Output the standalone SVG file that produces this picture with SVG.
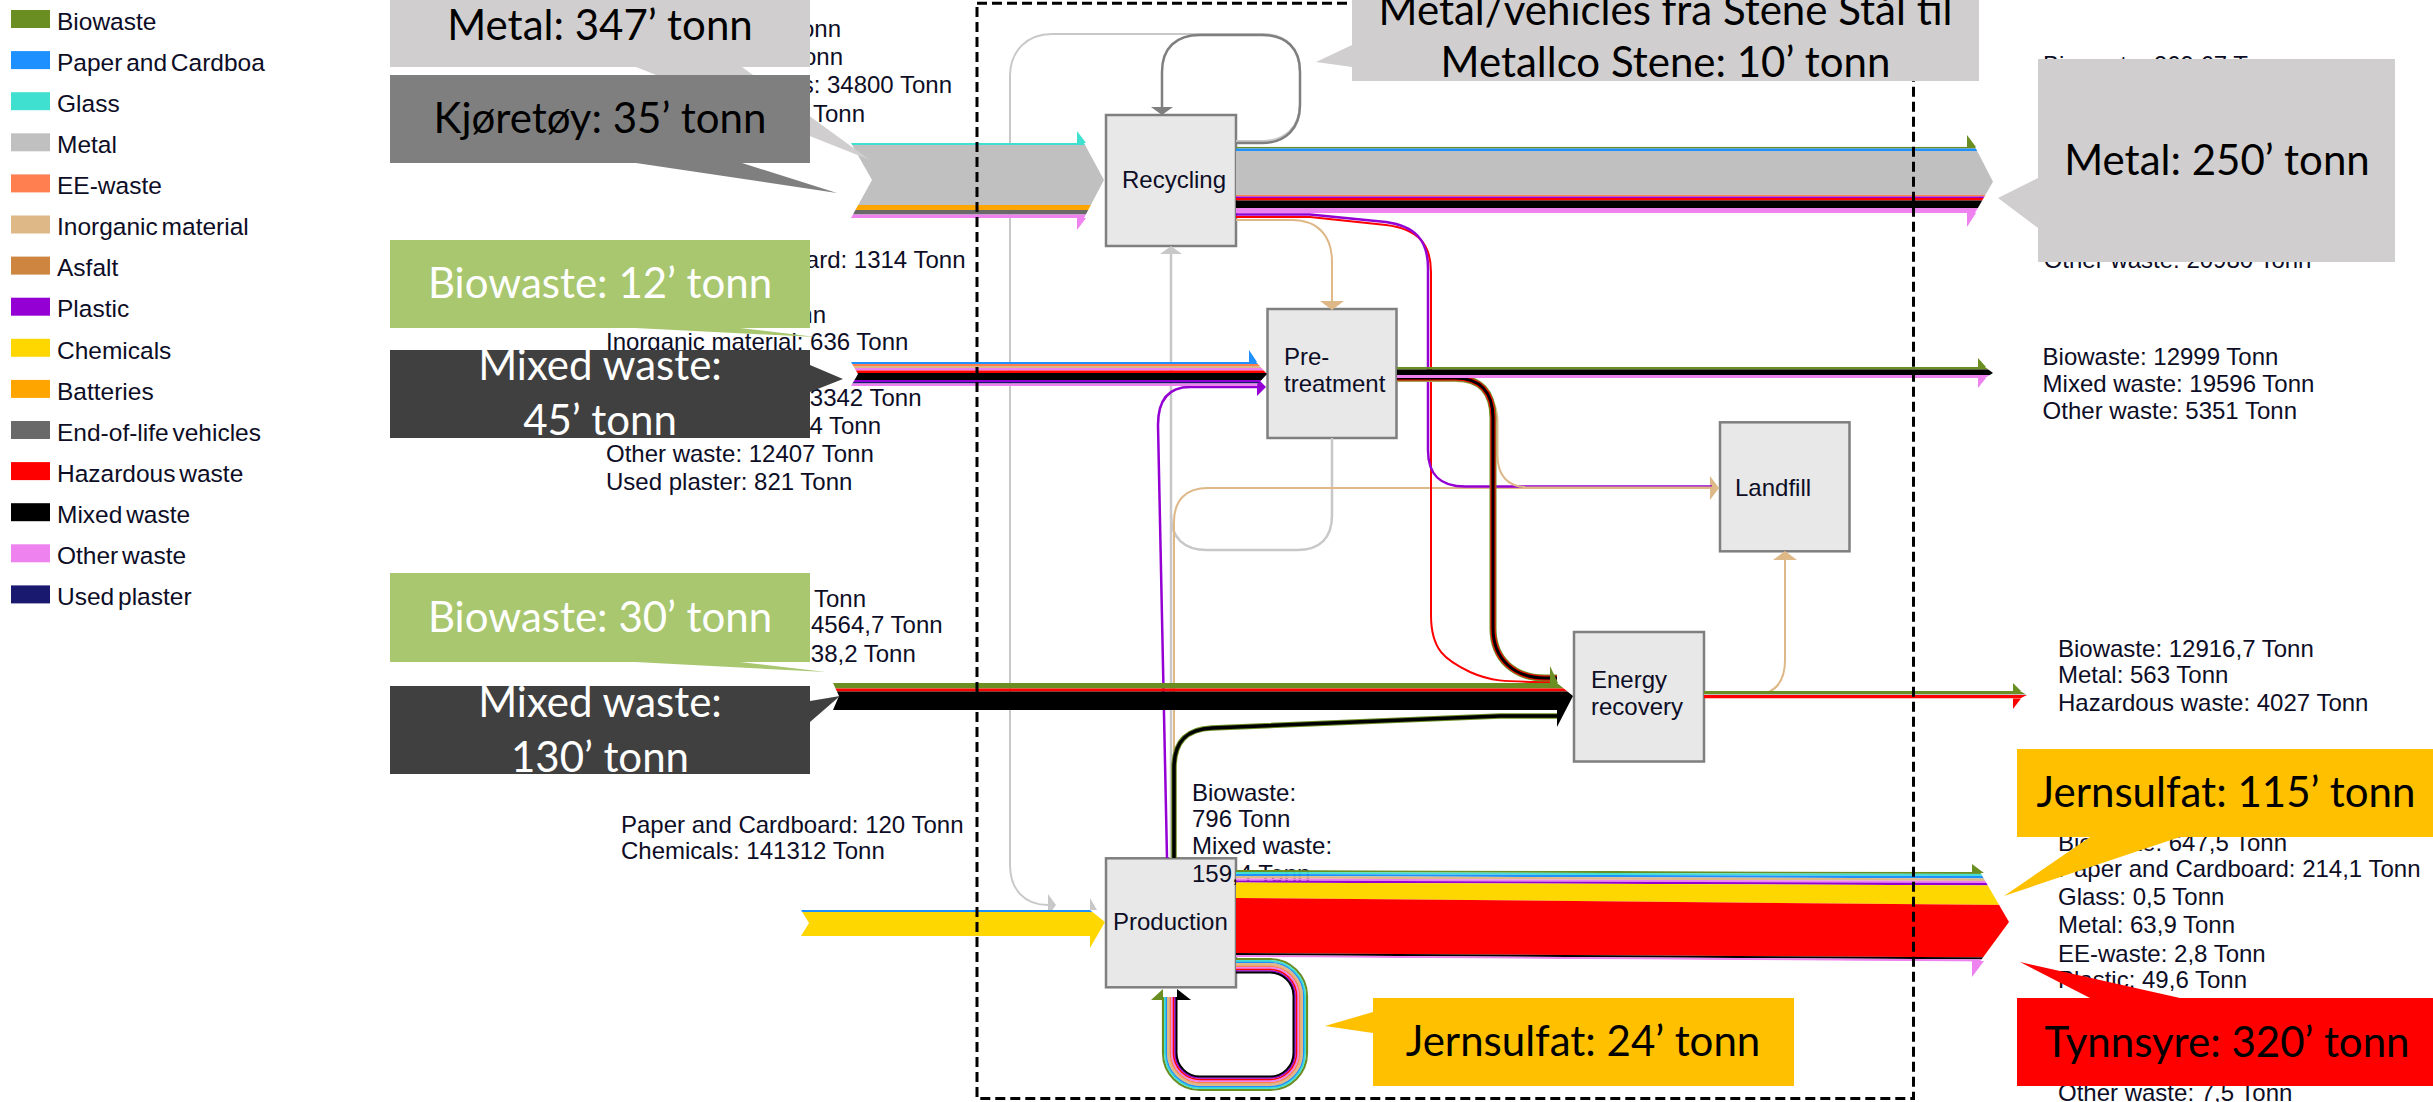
<svg xmlns="http://www.w3.org/2000/svg" width="2433" height="1102" viewBox="0 0 2433 1102">
<defs>
<style>
.leg{font-family:"Liberation Sans",Arial,sans-serif;font-size:24.5px;fill:#0d0d26;word-spacing:-3px}
.lbl{font-family:"Liberation Sans",Arial,sans-serif;font-size:24px;fill:#0d0d26}
.end{text-anchor:end}
.co{font-family:Lato,"Open Sans",sans-serif;font-size:42px;text-anchor:middle}
.wh{fill:#ffffff}
.bk{fill:#000000}
.box{fill:#e8e8e8;stroke:#7f7f7f;stroke-width:2.5}
.ln{fill:none}
</style>
<marker id="aGray" viewBox="-1 -13 11 26" markerWidth="11" markerHeight="26" refX="0" refY="0" orient="auto" markerUnits="userSpaceOnUse"><path d="M0,-11 L8,0 L0,11 Z" fill="#7f7f7f"/></marker>
<marker id="aLight" viewBox="-1 -13 11 26" markerWidth="11" markerHeight="26" refX="0" refY="0" orient="auto" markerUnits="userSpaceOnUse"><path d="M0,-11 L8,0 L0,11 Z" fill="#c8c8c8"/></marker>
<marker id="aBur" viewBox="-1 -16 12 32" markerWidth="12" markerHeight="32" refX="0" refY="0" orient="auto" markerUnits="userSpaceOnUse"><path d="M0,-12 L9,0 L0,12 Z" fill="#deb887"/></marker>
<marker id="aViol" viewBox="-1 -13 11 26" markerWidth="11" markerHeight="26" refX="0" refY="0" orient="auto" markerUnits="userSpaceOnUse"><path d="M0,-9 L9,0 L0,9 Z" fill="#9400d3"/></marker>
<clipPath id="cRecIn"><polygon points="851,143 1084,143 1104,180 1084,218 851,218 872,180"/></clipPath>
<clipPath id="cRecOut"><polygon points="1236,146.7 1975,146.7 1993,181.7 1975,213 1236,213"/></clipPath>
<clipPath id="cPreIn"><polygon points="851,362 1256,362 1267,374 1256,386 851,386 858,374"/></clipPath>
<clipPath id="cPreOut"><polygon points="1397,367 1985,367 1993,373 1985,378 1397,378"/></clipPath>
<clipPath id="cEnIn"><polygon points="833,683 1557,683 1573,696 1557,727 1557,710 833,710 839,696"/></clipPath>
<clipPath id="cEnOut"><polygon points="1704,691 2020,691 2027,695 2020,698.5 1704,698.5"/></clipPath>
<clipPath id="cProIn"><polygon points="801,910 1090,910 1105,922 1090,948 1090,936 801,936 809,923"/></clipPath>
<clipPath id="cProOut"><polygon points="1236,870 1980,872 2009,922 1980,961.5 1236,957"/></clipPath>
</defs>
<rect width="2433" height="1102" fill="#ffffff"/>

<g id="legend">
<rect x="11" y="10" width="39" height="18" fill="#6b8e23"/><text class="leg" x="57" y="29.7">Biowaste</text>
<rect x="11" y="51.1" width="39" height="18" fill="#1e90ff"/><text class="leg" x="57" y="70.8">Paper and Cardboa</text>
<rect x="11" y="92.2" width="39" height="18" fill="#40e0d0"/><text class="leg" x="57" y="111.9">Glass</text>
<rect x="11" y="133.3" width="39" height="18" fill="#c0c0c0"/><text class="leg" x="57" y="153">Metal</text>
<rect x="11" y="174.4" width="39" height="18" fill="#ff7f50"/><text class="leg" x="57" y="194.1">EE-waste</text>
<rect x="11" y="215.5" width="39" height="18" fill="#deb887"/><text class="leg" x="57" y="235.2">Inorganic material</text>
<rect x="11" y="256.6" width="39" height="18" fill="#cd853f"/><text class="leg" x="57" y="276.3">Asfalt</text>
<rect x="11" y="297.7" width="39" height="18" fill="#9400d3"/><text class="leg" x="57" y="317.4">Plastic</text>
<rect x="11" y="338.8" width="39" height="18" fill="#ffd700"/><text class="leg" x="57" y="358.5">Chemicals</text>
<rect x="11" y="379.9" width="39" height="18" fill="#ffa500"/><text class="leg" x="57" y="399.6">Batteries</text>
<rect x="11" y="421" width="39" height="18" fill="#696969"/><text class="leg" x="57" y="440.7">End-of-life vehicles</text>
<rect x="11" y="462.1" width="39" height="18" fill="#ff0000"/><text class="leg" x="57" y="481.8">Hazardous waste</text>
<rect x="11" y="503.2" width="39" height="18" fill="#000000"/><text class="leg" x="57" y="522.9">Mixed waste</text>
<rect x="11" y="544.3" width="39" height="18" fill="#ee82ee"/><text class="leg" x="57" y="564">Other waste</text>
<rect x="11" y="585.4" width="39" height="18" fill="#191970"/><text class="leg" x="57" y="605.1">Used plaster</text>
</g>

<g id="node-recycling"><rect class="box" x="1106" y="115" width="130" height="131"/><text class="lbl" x="1122" y="188">Recycling</text></g>
<g id="node-pretreatment"><rect class="box" x="1267.5" y="309" width="129" height="129"/><text class="lbl" x="1284" y="365">Pre-</text><text class="lbl" x="1284" y="392">treatment</text></g>
<g id="node-landfill"><rect class="box" x="1720" y="422.3" width="129.5" height="129"/><text class="lbl" x="1735" y="496">Landfill</text></g>
<g id="node-energy"><rect class="box" x="1574" y="632" width="130" height="129.5"/><text class="lbl" x="1591" y="688">Energy</text><text class="lbl" x="1591" y="715">recovery</text></g>
<g id="node-production"><rect class="box" x="1106" y="858.3" width="130" height="129"/><text class="lbl" x="1113" y="930">Production</text></g>

<g id="flow-labels">
<text class="lbl end" x="841" y="36.7">Tonn</text>
<text class="lbl end" x="843" y="65">Tonn</text>
<text class="lbl end" x="952" y="93.3">s: 34800 Tonn</text>
<text class="lbl end" x="865" y="121.7">Tonn</text>
<text class="lbl end" x="965.5" y="268.3">ard: 1314 Tonn</text>
<text class="lbl end" x="826" y="323">Tonn</text>
<text class="lbl" x="606" y="350">Inorganic material: 636 Tonn</text>
<text class="lbl end" x="921.5" y="406">3342 Tonn</text>
<text class="lbl end" x="881" y="434.3">4 Tonn</text>
<text class="lbl" x="606" y="462.3">Other waste: 12407 Tonn</text>
<text class="lbl" x="606" y="490">Used plaster: 821 Tonn</text>
<text class="lbl end" x="866" y="606.7">Tonn</text>
<text class="lbl end" x="942.6" y="633.3">4564,7 Tonn</text>
<text class="lbl end" x="915.8" y="661.7">38,2 Tonn</text>
<text class="lbl" x="621" y="833">Paper and Cardboard: 120 Tonn</text>
<text class="lbl" x="621" y="859">Chemicals: 141312 Tonn</text>
<text class="lbl" x="1192" y="800.7">Biowaste:</text>
<text class="lbl" x="1192" y="826.7">796 Tonn</text>
<text class="lbl" x="1192" y="854">Mixed waste:</text>
<text class="lbl" x="1192" y="881.7">159,4 Tonn</text>
<text class="lbl" x="2043" y="73">Biowaste: 269,67 Tonn</text>
<text class="lbl" x="2043.7" y="268.3">Other waste: 20980 Tonn</text>
<text class="lbl" x="2042.6" y="365">Biowaste: 12999 Tonn</text>
<text class="lbl" x="2042.6" y="391.7">Mixed waste: 19596 Tonn</text>
<text class="lbl" x="2042.6" y="419.3">Other waste: 5351 Tonn</text>
<text class="lbl" x="2058" y="657">Biowaste: 12916,7 Tonn</text>
<text class="lbl" x="2058" y="683">Metal: 563 Tonn</text>
<text class="lbl" x="2058" y="710.6">Hazardous waste: 4027 Tonn</text>
<text class="lbl" x="2058" y="850.6">Biowaste: 647,5 Tonn</text>
<text class="lbl" x="2058" y="876.7">Paper and Cardboard: 214,1 Tonn</text>
<text class="lbl" x="2058" y="905">Glass: 0,5 Tonn</text>
<text class="lbl" x="2058" y="933">Metal: 63,9 Tonn</text>
<text class="lbl" x="2058" y="961.5">EE-waste: 2,8 Tonn</text>
<text class="lbl" x="2058" y="987.6">Plastic: 49,6 Tonn</text>
<text class="lbl" x="2058" y="1100.7">Other waste: 7,5 Tonn</text>
</g>

<g id="connectors">
<path class="ln" d="M1236,141 H1262 C1286,141 1300,126 1300,103 V72 C1300,48 1286,34 1262,34 H1052 C1027,34 1010,51 1010,76 V865 C1010,890 1025,905 1048,905" stroke="#c8c8c8" stroke-width="2" marker-end="url(#aLight)"/>
<path class="ln" d="M1236,143 H1262 C1286,143 1300,128 1300,105 V72 C1300,48 1286,35 1262,35 H1200 C1176,35 1162,48 1162,72 V107" stroke="#7f7f7f" stroke-width="2.5" marker-end="url(#aGray)"/>
<path class="ln" d="M1332,438 V515 C1332,538 1320,550 1297,550 H1207 C1184,550 1171,538 1171,515" stroke="#c8c8c8" stroke-width="2.5"/>
<path class="ln" d="M1171,858 V254" stroke="#c8c8c8" stroke-width="2.5" marker-end="url(#aLight)"/>
<path class="ln" d="M1174,858 V522 C1174,500 1186,488 1208,488 H1710" stroke="#deb887" stroke-width="2" marker-end="url(#aBur)"/>
<path class="ln" d="M1167,858 L1158,425 C1158,400 1168,387 1190,387 H1257" stroke="#9400d3" stroke-width="2.5" marker-end="url(#aViol)"/>
<path class="ln" d="M1236,220 H1292 C1318,220 1332,236 1332,262 V301" stroke="#deb887" stroke-width="2" marker-end="url(#aBur)"/>
<path class="ln" d="M1236,217 H1310 L1386,225 C1418,229 1431,244 1431,272 V615 C1431,650 1445,660 1470,672 C1490,681 1500,682 1557,682" stroke="#ff0000" stroke-width="2"/>
<path class="ln" d="M1236,214.5 H1310 L1386,222 C1415,226 1428,240 1428,268 V450 C1428,475 1440,486.5 1465,486.5 H1712" stroke="#9400d3" stroke-width="2.5"/>
<path class="ln" d="M1397,381 H1455 C1483,381 1497.5,396 1497.5,424 V455 C1497.5,476 1508,487.5 1530,487.5 H1712" stroke="#deb887" stroke-width="2"/>
<path class="ln" d="M1397,378 H1455 C1480,378 1493,392 1493,418 V628 C1493,660 1515,678 1545,678 H1557" stroke="#6b8e23" stroke-width="7"/>
<path class="ln" d="M1397,378 H1455 C1480,378 1493,392 1493,418 V628 C1493,660 1515,678 1545,678 H1557" stroke="#ff0000" stroke-width="5"/>
<path class="ln" d="M1397,378 H1455 C1480,378 1493,392 1493,418 V628 C1493,660 1515,678 1545,678 H1557" stroke="#000000" stroke-width="3"/>
<path class="ln" d="M1174,858 V768 C1174,742 1186,729 1212,728 L1500,716 H1558" stroke="#6b8e23" stroke-width="5.5"/>
<path class="ln" d="M1174,858 V768 C1174,742 1186,729 1212,728 L1500,716 H1558" stroke="#000000" stroke-width="3.5"/>
<path class="ln" d="M1704,695 H1752 C1774,695 1785,683 1785,660 V560" stroke="#deb887" stroke-width="2" marker-end="url(#aBur)"/>

<g clip-path="url(#cRecIn)">
<rect x="840" y="143" width="270" height="2" fill="#40e0d0"/>
<rect x="840" y="145" width="270" height="60" fill="#c0c0c0"/>
<rect x="840" y="205" width="270" height="5" fill="#ffa500"/>
<rect x="840" y="210" width="270" height="4.5" fill="#696969"/>
<rect x="840" y="214.5" width="270" height="3.5" fill="#ee82ee"/>
</g>
<polygon points="1077,131 1086,143 1077,143" fill="#40e0d0"/>
<polygon points="1077,218 1086,218 1077,230" fill="#ee82ee"/>

<g clip-path="url(#cRecOut)">
<rect x="1230" y="146.7" width="770" height="1.8" fill="#6b8e23"/>
<rect x="1230" y="148.5" width="770" height="2.5" fill="#1e90ff"/>
<rect x="1230" y="151" width="770" height="44" fill="#c0c0c0"/>
<rect x="1230" y="195" width="770" height="1.5" fill="#ff7f50"/>
<rect x="1230" y="196.5" width="770" height="1.5" fill="#9400d3"/>
<rect x="1230" y="198" width="770" height="2.5" fill="#ff0000"/>
<rect x="1230" y="200.5" width="770" height="7.5" fill="#000000"/>
<rect x="1230" y="208" width="770" height="5" fill="#ee82ee"/>
</g>
<polygon points="1967,135 1976,147 1967,147" fill="#6b8e23"/>
<polygon points="1967,213 1976,213 1967,227" fill="#ee82ee"/>

<g clip-path="url(#cPreIn)">
<rect x="845" y="362" width="430" height="2" fill="#1e90ff"/>
<rect x="845" y="364" width="430" height="2" fill="#ff7f50"/>
<rect x="845" y="366" width="430" height="2" fill="#deb887"/>
<rect x="845" y="368" width="430" height="2.5" fill="#ee82ee"/>
<rect x="845" y="370.5" width="430" height="2.5" fill="#ff0000"/>
<rect x="845" y="373" width="430" height="7" fill="#000000"/>
<rect x="845" y="380" width="430" height="2" fill="#9400d3"/>
<rect x="845" y="382" width="430" height="1.5" fill="#191970"/>
<rect x="845" y="383.5" width="430" height="2.5" fill="#ee82ee"/>
</g>
<polygon points="1249,350 1257,362 1249,362" fill="#1e90ff"/>

<g clip-path="url(#cPreOut)">
<rect x="1390" y="367" width="610" height="2.5" fill="#6b8e23"/>
<rect x="1390" y="369.5" width="610" height="5.5" fill="#000000"/>
<rect x="1390" y="375" width="610" height="3" fill="#ee82ee"/>
</g>
<polygon points="1978,358 1986,367 1978,367" fill="#6b8e23"/>
<polygon points="1978,378 1986,378 1978,388" fill="#ee82ee"/>

<g clip-path="url(#cEnIn)">
<rect x="825" y="683" width="760" height="5.5" fill="#6b8e23"/>
<rect x="825" y="688.5" width="760" height="3" fill="#ff0000"/>
<rect x="825" y="691.5" width="760" height="40" fill="#000000"/>
</g>
<polygon points="1550,666 1558,683 1550,683" fill="#6b8e23"/>

<g clip-path="url(#cEnOut)">
<rect x="1700" y="691" width="330" height="3" fill="#6b8e23"/>
<rect x="1700" y="694" width="330" height="1" fill="#c0c0c0"/>
<rect x="1700" y="695" width="330" height="3.5" fill="#ff0000"/>
</g>
<polygon points="2013,683 2021,691 2013,691" fill="#6b8e23"/>
<polygon points="2013,698.5 2021,698.5 2013,709" fill="#ff0000"/>

<g clip-path="url(#cProIn)">
<rect x="795" y="910" width="320" height="2" fill="#1e90ff"/>
<rect x="795" y="912" width="320" height="40" fill="#ffd700"/>
</g>
<polygon points="1090,898 1097,910 1090,910" fill="#c8c8c8"/>

<g clip-path="url(#cProOut)">
<polygon points="1236,870 2012,872 2012,874 1236,872" fill="#6b8e23"/>
<polygon points="1236,872 2012,874 2012,876 1236,874" fill="#40e0d0"/>
<polygon points="1236,874 2012,876 2012,878.5 1236,876" fill="#1e90ff"/>
<polygon points="1236,876 2012,878.5 2012,881 1236,878.5" fill="#deb887"/>
<polygon points="1236,878.5 2012,881 2012,883 1236,880.5" fill="#ee82ee"/>
<polygon points="1236,880.5 2012,883 2012,885.5 1236,882.5" fill="#9400d3"/>
<polygon points="1236,882.5 2012,885.5 2012,905 1236,898" fill="#ffd700"/>
<polygon points="1236,898 2012,905 2012,957.5 1236,953" fill="#ff0000"/>
<polygon points="1236,953 2012,957.5 2012,959.5 1236,955" fill="#000000"/>
<polygon points="1236,955 2012,959.5 2012,962 1236,957" fill="#ee82ee"/>
</g>
<polygon points="1972,873 1972,864 1984,873" fill="#6b8e23"/>
<polygon points="1972,961 1984,961 1972,977" fill="#ee82ee"/>

<g class="ln">
<path d="M1236,959 H1270 A37,37 0 0 1 1307,996 V1053 A37,37 0 0 1 1270,1090 H1200 A37,37 0 0 1 1163,1053 V997" stroke="#6b8e23" stroke-width="2.2"/>
<path d="M1236,961 H1270 A35,35 0 0 1 1305,996 V1053 A35,35 0 0 1 1270,1088 H1200 A35,35 0 0 1 1165,1053 V997" stroke="#40e0d0" stroke-width="2"/>
<path d="M1236,962.5 H1270 A33.5,33.5 0 0 1 1303.5,996 V1053 A33.5,33.5 0 0 1 1270,1086.5 H1200 A33.5,33.5 0 0 1 1166.5,1053 V997" stroke="#1e90ff" stroke-width="1.6"/>
<path d="M1236,964.5 H1270 A31.5,31.5 0 0 1 1301.5,996 V1053 A31.5,31.5 0 0 1 1270,1084.5 H1200 A31.5,31.5 0 0 1 1168.5,1053 V997" stroke="#deb887" stroke-width="3"/>
<path d="M1236,966.5 H1270 A29.5,29.5 0 0 1 1299.5,996 V1053 A29.5,29.5 0 0 1 1270,1082.5 H1200 A29.5,29.5 0 0 1 1170.5,1053 V997" stroke="#ff7f50" stroke-width="1.6"/>
<path d="M1236,968 H1270 A28,28 0 0 1 1298,996 V1053 A28,28 0 0 1 1270,1081 H1200 A28,28 0 0 1 1172,1053 V997" stroke="#ee82ee" stroke-width="1.8"/>
<path d="M1236,969.5 H1270 A26.5,26.5 0 0 1 1296.5,996 V1053 A26.5,26.5 0 0 1 1270,1079.5 H1200 A26.5,26.5 0 0 1 1173.5,1053 V997" stroke="#ff0000" stroke-width="1.6"/>
<path d="M1236,971 H1270 A25,25 0 0 1 1295,996 V1053 A25,25 0 0 1 1270,1078 H1200 A25,25 0 0 1 1175,1053 V997" stroke="#9400d3" stroke-width="1.6"/>
<path d="M1236,972.5 H1270 A23.5,23.5 0 0 1 1293.5,996 V1053 A23.5,23.5 0 0 1 1270,1076.5 H1200 A23.5,23.5 0 0 1 1176.5,1053 V997" stroke="#000000" stroke-width="2"/>
</g>
<polygon points="1151,1000 1163,989 1163,1000" fill="#6b8e23"/>
<polygon points="1177,989 1191,1000 1177,1000" fill="#000000"/>
</g>

<rect id="system-boundary" x="977" y="3.3" width="936.5" height="1095.3" fill="none" stroke="#000000" stroke-width="3" stroke-dasharray="10 5"/>

<g id="callouts">
<g id="callout-metal347"><path d="M390,0 H810 V67 H742 L870,160 L636,67 H390 Z" fill="#d0cece"/><text class="co bk" x="600" y="40">Metal: 347’ tonn</text></g>
<g id="callout-kjoretoy"><path d="M390,75 H810 V163 H742 L837,193 L636,163 H390 Z" fill="#7f7f7f"/><text class="co bk" x="600" y="133">Kjøretøy: 35’ tonn</text></g>
<g id="callout-bio12"><path d="M390,240 H810 V328 H740 L816,337 L635,328 H390 Z" fill="#a9c76f"/><text class="co wh" x="600" y="298">Biowaste: 12’ tonn</text></g>
<g id="callout-mixed45"><path d="M390,350 H810 V365 L843,379 L810,392 V438 H390 Z" fill="#404040"/><text class="co wh" x="600" y="380">Mixed waste:</text><text class="co wh" x="600" y="435">45’ tonn</text></g>
<g id="callout-bio30"><path d="M390,573 H810 V662 H740 L826,672 L635,662 H390 Z" fill="#a9c76f"/><text class="co wh" x="600" y="632">Biowaste: 30’ tonn</text></g>
<g id="callout-mixed130"><path d="M390,686 H810 V701 L840,696 L810,722 V774 H390 Z" fill="#404040"/><text class="co wh" x="600" y="717">Mixed waste:</text><text class="co wh" x="600" y="771.7">130’ tonn</text></g>
<g id="callout-metalvehicles"><path d="M1352,0 H1979 V81 H1352 V67 L1316,62 L1352,45 Z" fill="#d0cece"/><text class="co bk" x="1665.5" y="25">Metal/vehicles fra Stene Stål til</text><text class="co bk" x="1665.5" y="77.3">Metallco Stene: 10’ tonn</text></g>
<g id="callout-metal250"><path d="M2038,59 H2395 V262 H2038 V228 L1998,198 L2038,178 Z" fill="#d0cece"/><text class="co bk" x="2217" y="175">Metal: 250’ tonn</text></g>
<g id="callout-jern115"><path d="M2017,749 H2440 V837 H2180 L2004,896 L2090,837 H2017 Z" fill="#ffc000"/><text class="co bk" x="2226" y="807">Jernsulfat: 115’ tonn</text></g>
<g id="callout-tynnsyre"><path d="M2017,998 H2090 L2020,962 L2180,998 H2440 V1086 H2017 Z" fill="#ff0000"/><text class="co bk" x="2227" y="1057">Tynnsyre: 320’ tonn</text></g>
<g id="callout-jern24"><path d="M1373,998 H1794 V1086 H1373 V1033 L1325,1026 L1373,1012 Z" fill="#ffc000"/><text class="co bk" x="1583" y="1056">Jernsulfat: 24’ tonn</text></g>
</g>
</svg>
